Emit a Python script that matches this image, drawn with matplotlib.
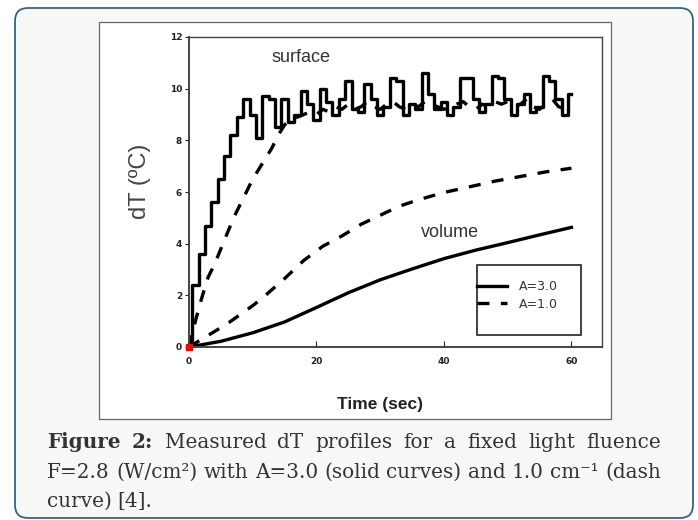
import matplotlib
matplotlib.use("Agg")
import matplotlib.pyplot as plt
from matplotlib.patches import FancyBboxPatch, Rectangle

# surface profiles (1 s sampling)
t_surf = list(range(0, 61))
surf_a3 = [0.0, 2.4, 3.6, 4.7, 5.6, 6.5, 7.4, 8.2, 8.9, 9.6,
           9.0, 8.1, 9.7, 9.6, 8.5, 9.6, 8.7, 9.0, 9.9, 9.4,
           8.8, 10.0, 9.5, 9.0, 9.6, 10.3, 9.2, 9.1, 10.2, 9.6,
           9.0, 9.3, 10.4, 10.3, 9.0, 9.4, 9.2, 10.6, 9.8, 9.2,
           9.5, 9.0, 9.3, 10.4, 10.4, 9.6, 9.1, 9.4, 10.5, 10.4,
           9.6, 9.0, 9.4, 9.8, 9.1, 9.3, 10.5, 10.3, 9.6, 9.0,
           9.8]
surf_a1 = [0.0, 1.0, 1.9, 2.7, 3.2, 3.8, 4.4, 5.0, 5.5, 6.0,
           6.5, 6.9, 7.3, 7.7, 8.2, 8.6, 8.8, 8.9, 9.0, 9.1,
           9.0, 9.2, 9.1, 9.3, 9.2, 9.4, 9.2, 9.3, 9.5, 9.3,
           9.2, 9.4, 9.5, 9.3, 9.2, 9.4, 9.3, 9.5, 9.4, 9.3,
           9.2, 9.3, 9.4, 9.5, 9.3, 9.2, 9.4, 9.3, 9.5, 9.4,
           9.5, 9.3, 9.4, 9.6, 9.3, 9.2, 9.4, 9.6, 9.3, 9.2,
           9.3]

# volume profiles
t_vol_a3 = [0, 5, 10, 15, 20, 25, 30, 35, 40, 45, 50, 55, 60]
vol_a3 = [0.0, 0.22, 0.55, 0.97, 1.53, 2.1, 2.6, 3.02, 3.42, 3.75, 4.04, 4.34, 4.63]
t_vol_a1 = [0, 2, 4, 6, 8, 10, 12, 15, 18, 21, 24, 27, 30, 33, 36, 40, 44, 48, 52, 56, 60]
vol_a1 = [0.0, 0.3, 0.6, 0.9, 1.25, 1.6, 2.0, 2.65, 3.35, 3.9, 4.3, 4.75, 5.1, 5.45,
          5.7, 5.98, 6.2, 6.42, 6.6, 6.78, 6.92]

x_ticks = [0, 20, 40, 60]
y_ticks = [0, 2, 4, 6, 8, 10, 12]

W, H = 698, 520
fig = plt.figure(figsize=(W / 100, H / 100), dpi=100)
fig.patch.set_facecolor("white")

# outer card and white image frame (pixel units -> inches)
card = FancyBboxPatch((0.15, 0.02), 6.78, 5.10, boxstyle="round,pad=0,rounding_size=0.13",
                      transform=fig.dpi_scale_trans, facecolor="#f7f7f6",
                      edgecolor="#2b6a7e", linewidth=1.3, zorder=-3)
fig.patches.append(card)
frame = Rectangle((0.99, 1.01), 5.12, 3.97, transform=fig.dpi_scale_trans,
                  facecolor="white", edgecolor="#666666", linewidth=0.9, zorder=-2)
fig.patches.append(frame)

ax = fig.add_axes([189 / W, (H - 347) / H, 413 / W, 310 / H])
ax.set_zorder(2)
ax.set_xlim(0, 64.8)
ax.set_ylim(0, 12)

dash = (0, (3.6, 3.4))
l1, = ax.plot(t_surf, surf_a3, color="black", lw=2.4, drawstyle="steps-mid", label="A=3.0")
l2, = ax.plot(t_surf, surf_a1, color="black", lw=2.4, linestyle=dash, label="A=1.0")
ax.plot(t_vol_a3, vol_a3, color="black", lw=2.4)
ax.plot(t_vol_a1, vol_a1, color="black", lw=2.4, linestyle=dash)
ax.plot([0], [0], "s", color="red", ms=5, clip_on=False, zorder=5)

for s in ax.spines.values():
    s.set_color("#444444")
    s.set_linewidth(1.0)
ax.spines["left"].set_linewidth(1.4)
ax.spines["bottom"].set_linewidth(1.4)

ax.set_xticks(x_ticks)
ax.set_yticks(y_ticks)
ax.tick_params(axis="x", direction="in", length=4, pad=7, labelsize=6.5, colors="#222222")
ax.tick_params(axis="y", direction="out", length=3, pad=2, labelsize=6.5, colors="#222222")
for lab in ax.get_xticklabels() + ax.get_yticklabels():
    lab.set_fontweight("bold")

ax.text(17.6, 11.19, "surface", fontsize=13, color="#333333", ha="center", va="center",
        family="Liberation Sans")
ax.text(41.0, 4.45, "volume", fontsize=13, color="#333333", ha="center", va="center",
        family="Liberation Sans")

ax.text(-0.119, 0.534, "dT (ºC)", transform=ax.transAxes, rotation=90, fontsize=17,
        color="#444444", ha="center", va="center", family="Liberation Sans")
ax.text(0.4625, -0.184, "Time (sec)", transform=ax.transAxes, fontsize=12.5,
        fontweight="bold", color="#222222", ha="center", va="center", family="Liberation Sans")

# legend box
ax.add_patch(Rectangle((0.697, 0.039), 0.252, 0.226, transform=ax.transAxes,
                       facecolor="white", edgecolor="#222222", lw=1.2, zorder=4))
leg = ax.legend(handles=[l1, l2], loc="upper left", bbox_to_anchor=(0.697, 0.215),
                frameon=False, fontsize=9, handlelength=2.4, handletextpad=1.0,
                labelspacing=0.35, borderpad=0, borderaxespad=0)
leg.set_zorder(6)
for t in leg.get_texts():
    t.set_color("#333333")

# caption, justified lines
renderer = fig.canvas.get_renderer()
x0, x1 = 47, 661
cap_kw = dict(family="DejaVu Serif", fontsize=14.4, color="#333333", va="baseline")


def put_line(words, y_px, justify=True):
    texts = []
    for w, bold in words:
        texts.append(fig.text(0, 0, w, fontweight="bold" if bold else "normal", **cap_kw))
    widths = [t.get_window_extent(renderer).width for t in texts]
    if justify:
        gap = (x1 - x0 - sum(widths)) / (len(texts) - 1)
    else:
        gap = 5.0
    x = x0
    for t, w in zip(texts, widths):
        t.set_position((x / W, (H - y_px) / H))
        x += w + gap


put_line([("Figure", True), ("2:", True), ("Measured", False), ("dT", False),
          ("profiles", False), ("for", False), ("a", False), ("fixed", False),
          ("light", False), ("fluence", False)], 448)
put_line([("F=2.8", False), ("(W/cm²)", False), ("with", False), ("A=3.0", False),
          ("(solid", False), ("curves)", False), ("and", False), ("1.0", False),
          ("cm⁻¹", False), ("(dash", False)], 478)
put_line([("curve)", False), ("[4].", False)], 507, justify=False)

fig.savefig("out.png", dpi=100)
